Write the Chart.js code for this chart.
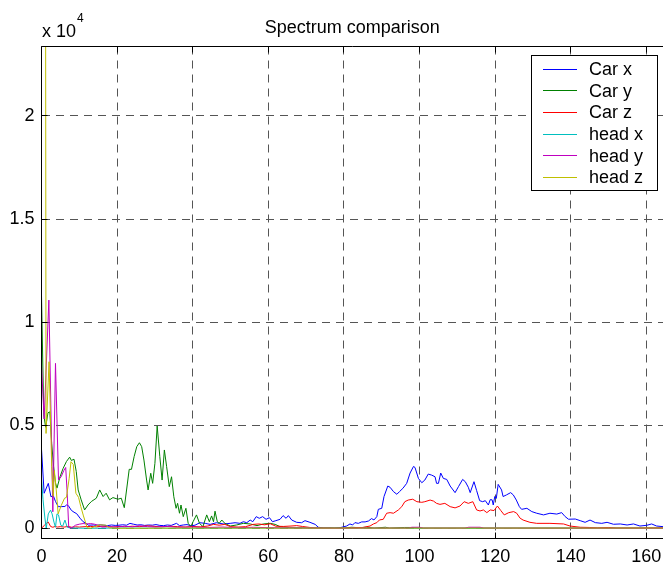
<!DOCTYPE html>
<html>
<head>
<meta charset="utf-8">
<script src="https://cdn.jsdelivr.net/npm/chart.js@4/dist/chart.umd.min.js"></script>
<style>
  html, body { margin: 0; padding: 0; background: #fff; overflow: hidden; }
  canvas { display: block; }
</style>
</head>
<body>
<canvas id="spec" width="663" height="565"></canvas>
<script>
// Frequency (x) and amplitude (y) samples for each measured channel
const carXFreq = [
  0, 0.7, 1.8, 2.5, 3.1, 3.7, 4.45, 5.2, 6.2, 6.6,
  7.1, 7.9, 8.6, 9.3, 10.2, 11.0, 11.9, 12.4, 13.7, 14.5,
  15.5, 16.5, 17.5, 18.5, 19.5, 20.5, 21.5, 22.5, 23.4, 24.3,
  25.3, 26.3, 27.3, 28.3, 29.3, 30.3, 31.3, 32.3, 33.3, 34.3,
  35.7, 36.5, 37.5, 38.5, 39.6, 40.6, 41.9, 43.3, 44.6, 46.3,
  48.1, 49.9, 51.2, 52.5, 53.4, 54.3, 55.2, 55.9, 56.8, 57.6,
  58.5, 59.4, 60.3, 61.1, 62.0, 63.1, 63.9, 64.7, 65.3, 66.2,
  67.5, 68.8, 69.7, 71.0, 72.4, 73.2, 74.6, 76.0, 77.5, 79.0,
  80.7, 81.6, 82.3, 82.9, 83.8, 84.7, 85.6, 86.5, 87.3, 87.95,
  88.7, 89.1, 90.0, 90.6, 91.6, 92.2, 93.1, 94.0, 94.7, 95.6,
  96.6, 97.5, 98.4, 98.8, 99.7, 100.6, 101.4, 102.3, 103.2, 104.1,
  104.5, 105.0, 105.6, 106.3, 107.2, 108.1, 109.4, 110.3, 111.4, 112.1,
  112.9, 113.4, 114.4, 115.1, 115.9, 116.7, 117.4, 118.2, 118.7, 119.2,
  119.5, 119.9, 120.3, 120.8, 121.7, 122.1, 123.0, 124.1, 124.8, 125.6,
  126.4, 127.0, 128.4, 129.7, 131.0, 132.8, 134.5, 136.3, 137.6, 138.5,
  139.4, 141.2, 142.5, 143.8, 145.1, 146.5, 148.2, 149.6, 151.3, 153.1,
  154.9, 156.6, 158.3, 160.1, 161.4, 162.7, 164.4
];
const carXAmp = [
  3840, 1700, 2180, 1530, 1590, 1300, 1050, 1050, 1060, 1130,
  1100, 870, 780, 710, 490, 320, 230, 150, 160, 140,
  170, 150, 130, 160, 140, 150, 170, 150, 240, 200,
  160, 170, 140, 160, 150, 180, 140, 130, 160, 140,
  240, 130, 160, 180, 120, 150, 270, 240, 190, 270,
  210, 240, 270, 240, 320, 270, 400, 320, 565, 485,
  565, 435, 515, 320, 370, 435, 615, 485, 615, 400,
  290, 270, 370, 290, 190, 50, 15, 20, 10, 30,
  110, 210, 160, 275, 240, 310, 310, 355, 470, 405,
  565, 920, 970, 1540, 2050, 1990, 1780, 1650, 1780, 1940,
  2180, 2680, 3000, 2950, 2420, 2210, 2340, 2630, 2580, 2500,
  2180, 2180, 2680, 2420, 2370, 2050, 1730, 2020, 2370, 2260,
  1990, 1730, 2260, 1830, 1340, 1290, 1340, 1130, 1390, 1380,
  1130, 1540, 1450, 2130, 1860, 1540, 1620, 1730, 1620, 1370,
  1050, 920, 970, 810, 730, 650, 730, 690, 760, 570,
  440, 450, 370, 290, 400, 275, 240, 290, 195, 210,
  160, 210, 110, 145, 210, 110, 80
];

const carYFreq = [
  0, 0.6, 1.1, 1.7, 2.2, 2.7, 3.2, 3.7, 4.1, 4.9,
  5.7, 6.6, 7.45, 7.9, 8.6, 9.2, 9.7, 10.5, 11.4, 12.3,
  13.2, 14.5, 15.4, 16.3, 17.1, 18.0, 18.9, 20.2, 21.1, 21.9,
  23.2, 23.8, 24.5, 25.2, 25.9, 26.5, 27.1, 27.8, 28.2, 28.9,
  29.4, 30.0, 30.6, 31.3, 31.9, 32.5, 33.1, 33.8, 34.4, 35.0,
  35.6, 36.0, 36.5, 36.9, 37.5, 38.2, 38.8, 39.5, 40.1, 41.0,
  41.8, 42.7, 43.7, 44.4, 45.0, 45.5, 45.9, 46.5, 47.0, 47.7,
  48.5, 49.9, 51.6, 53.4, 55.2, 57.0, 58.7, 60.5, 61.8, 63.1,
  65.7, 70, 80, 82, 84, 86, 88, 91, 92, 96,
  98, 100, 130, 164.4
];
const carYAmp = [
  11300, 5500, 4900, 5600, 5650, 4100, 3000, 2200, 1950, 2500,
  2900, 3240, 3450, 3290, 3350, 2750, 1860, 1380, 890, 1130,
  1300, 1460, 1860, 1540, 1700, 1380, 1490, 1410, 1460, 1000,
  2860, 2860, 3475, 3960, 4150, 3960, 3310, 2340, 1860, 2670,
  2180, 3150, 4960, 3475, 2340, 3800, 2990, 2020, 2500, 1530,
  970, 1210, 730, 1130, 565, 970, 240, 80, 320, 650,
  240, 80, 650, 320, 600, 320, 830, 320, 240, 400,
  240, 110, 160, 240, 210, 130, 210, 240, 190, 80,
  30, 20, 10, 50, 30, 50, 10, 50, 10, 40,
  40, 10, 10, 10
];

const carZFreq = [
  0, 0.8, 1.4, 1.8, 2.4, 3.0, 3.6, 4.2, 5.0, 6.0,
  7.0, 8.0, 9.0, 10.0, 11.5, 13, 14.5, 16, 17.5, 19,
  20.5, 22, 24, 26, 28, 30, 32, 34, 36, 38,
  40, 42, 44, 45.5, 47, 48.5, 50, 52, 54, 56,
  57.5, 59, 60.5, 62, 64, 66, 67.5, 69, 71, 73,
  78, 81, 83, 85, 86.9, 87.8, 88.7, 89.4, 90.4, 91.3,
  92.2, 93.1, 94.4, 95.3, 96.1, 97.0, 98.2, 99.3, 100.6, 101.4,
  102.8, 103.7, 104.5, 105.4, 106.7, 108.1, 109.4, 110.7, 111.8, 112.9,
  114.1, 115.1, 116.0, 116.9, 117.8, 118.7, 119.7, 120.6, 121.5, 122.4,
  123.6, 124.9, 125.7, 126.6, 127.4, 129.2, 131.0, 134.5, 138.1, 139.8,
  142.5, 145, 147, 150, 152, 158, 164.4
];
const carZAmp = [
  0, 150, 260, 300, 90, 50, 90, 60, 80, 60,
  90, 50, 70, 60, 80, 90, 70, 100, 80, 60,
  90, 70, 100, 80, 120, 90, 70, 100, 80, 60,
  90, 70, 110, 190, 150, 190, 80, 60, 80, 190,
  210, 170, 220, 100, 90, 110, 130, 90, 40, 10,
  0, 10, 30, 40, 110, 210, 275, 405, 435, 730,
  760, 730, 890, 1050, 1290, 1370, 1410, 1290, 1260, 1290,
  1370, 1320, 1210, 1160, 1210, 1050, 990, 1080, 1290, 1210,
  1290, 890, 840, 890, 760, 890, 860, 1080, 860, 650,
  760, 810, 730, 490, 400, 290, 240, 240, 210, 110,
  50, 40, 20, 40, 10, 10, 20
];

const headXFreq = [
  0, 0.4, 0.9, 1.25, 1.8, 2.4, 2.8, 3.3, 3.7, 4.1,
  4.5, 5.1, 5.6, 6.2, 6.8, 7.5, 9, 12, 20, 40,
  60, 80, 164.4
];
const headXAmp = [
  2430, 1400, 500, 0, 700, 880, 700, 300, 50, 700,
  650, 150, 100, 400, 50, 20, 10, 0, 10, 0,
  10, 0, 0
];

const headYFreq = [
  0, 0.7, 1.95, 3.0, 3.7, 4.5, 5.2, 5.9, 6.4, 6.8,
  7.2, 8, 9, 10, 11, 12, 13, 14, 15, 16,
  18, 20, 22, 24, 26, 28, 30, 33, 36, 40,
  44, 48, 52, 56, 60, 66, 72, 80, 86, 97,
  98, 100, 101, 112, 113, 116, 117, 164.4
];
const headYAmp = [
  7920, 5300, 11070, 800, 8000, 2350, 2500, 2800, 2950, 1700,
  50, 20, 150, 200, 230, 210, 230, 200, 150, 60,
  80, 60, 100, 70, 120, 80, 60, 90, 50, 60,
  40, 60, 30, 50, 30, 20, 10, 0, 10, 10,
  50, 50, 10, 10, 50, 50, 10, 0
];

const headZFreq = [
  0, 0.9, 1.2, 2.0, 2.7, 3.1, 3.4, 3.9, 4.4, 5.2,
  6.1, 6.6, 7.3, 7.8, 8.4, 9.1, 9.8, 10.4, 11.1, 12.1,
  13, 14.5, 15.5, 17, 18, 20, 40, 80, 120, 164.4
];
const headZAmp = [
  80000, 60000, 4600, 8080, 3000, 1550, 2800, 1860, 700, 1100,
  1460, 1500, 2400, 3230, 3100, 1700, 1500, 1050, 600, 20,
  0, 120, 170, 150, 20, 0, 10, 10, 10, 10
];

const seriesNames = ['Car x', 'Car y', 'Car z', 'head x', 'head y', 'head z'];
const seriesFreq = [carXFreq, carYFreq, carZFreq, headXFreq, headYFreq, headZFreq];
const seriesAmp = [carXAmp, carYAmp, carZAmp, headXAmp, headYAmp, headZAmp];
const seriesColors = ['#0000ff', '#008000', '#ff0000', '#00bfbf', '#bf00bf', '#bfbf00'];

const xTickValues = [0, 20, 40, 60, 80, 100, 120, 140, 160];
const xTickLabels = ['0', '20', '40', '60', '80', '100', '120', '140', '160'];
const yTickValues = [0, 5000, 10000, 15000, 20000];
const yTickLabels = ['0', '0.5', '1', '1.5', '2'];
const titleText = 'Spectrum comparison';
const exponentBase = 'x 10';
const exponentPower = '4';

const FONT = 'Liberation Sans, Arial, Helvetica, sans-serif';
Chart.defaults.font.family = FONT;
Chart.defaults.font.size = 18;
Chart.defaults.color = '#000';

const datasets = seriesNames.map((name, i) => ({
  label: name,
  data: seriesFreq[i].map((f, k) => ({ x: f, y: seriesAmp[i][k] })),
  borderColor: seriesColors[i],
  backgroundColor: seriesColors[i],
  borderWidth: 1,
  pointRadius: 0,
  tension: 0,
  fill: false,
  order: seriesNames.length - 1 - i
}));

const align = p => Math.round(p - 0.5) + 0.5;

// Axes box (left, top, bottom edges) with inward tick marks, legend and exponent label
const axesDecor = {
  id: 'axesDecor',
  afterDatasetsDraw(chart) {
    const { ctx, chartArea: a, scales: { x, y } } = chart;
    ctx.save();
    ctx.strokeStyle = '#000';
    ctx.lineWidth = 1;
    ctx.setLineDash([]);
    ctx.beginPath();
    ctx.moveTo(a.right + 1, a.top);
    ctx.lineTo(a.left, a.top);
    ctx.lineTo(a.left, a.bottom);
    ctx.lineTo(a.right + 1, a.bottom);
    ctx.stroke();
    const tick = 6;
    ctx.beginPath();
    x.ticks.forEach(t => {
      const px = align(x.getPixelForValue(t.value));
      ctx.moveTo(px, a.bottom); ctx.lineTo(px, a.bottom - tick);
      ctx.moveTo(px, a.top); ctx.lineTo(px, a.top + tick);
    });
    y.ticks.forEach(t => {
      const py = align(y.getPixelForValue(t.value));
      ctx.moveTo(a.left, py); ctx.lineTo(a.left + tick, py);
    });
    ctx.stroke();

    // legend
    const box = { l: 531.5, t: 55.5, r: 657.5, b: 190.5 };
    ctx.fillStyle = '#fff';
    ctx.fillRect(box.l, box.t, box.r - box.l, box.b - box.t);
    ctx.strokeStyle = '#000';
    ctx.strokeRect(box.l, box.t, box.r - box.l, box.b - box.t);
    ctx.font = '18px ' + FONT;
    ctx.textBaseline = 'middle';
    ctx.textAlign = 'left';
    chart.data.datasets.forEach((ds, i) => {
      const ry = 69.3 + i * 21.6;
      const ly = align(ry);
      ctx.strokeStyle = ds.borderColor;
      ctx.beginPath();
      ctx.moveTo(543, ly); ctx.lineTo(577, ly);
      ctx.stroke();
      ctx.fillStyle = '#000';
      ctx.fillText(ds.label, 589, ry + 1);
    });

    // exponent label above the y axis
    ctx.textBaseline = 'alphabetic';
    ctx.font = '18px ' + FONT;
    ctx.fillText(exponentBase, 42, 36.5);
    const w = ctx.measureText(exponentBase).width;
    ctx.font = '12px ' + FONT;
    ctx.fillText(exponentPower, 42 + w + 1, 21.5);
    ctx.restore();
  }
};

new Chart(document.getElementById('spec'), {
  type: 'line',
  data: { datasets },
  options: {
    responsive: false,
    animation: false,
    events: [],
    layout: { padding: 0 },
    plugins: {
      legend: { display: false },
      tooltip: { enabled: false },
      title: {
        display: true,
        text: titleText,
        fullSize: false,
        color: '#000',
        font: { size: 18, weight: 'normal', lineHeight: 1.2 },
        padding: { top: 17.5, bottom: 7.4 }
      }
    },
    scales: {
      x: {
        type: 'linear',
        min: 0,
        max: 164.4,
        afterBuildTicks: s => { s.ticks = xTickValues.map(v => ({ value: v })); },
        afterFit: s => { s.height = 26.5; s.paddingLeft = 0; s.paddingRight = 0; },
        ticks: {
          autoSkip: false,
          maxRotation: 0,
          padding: 8,
          color: '#000',
          callback: v => xTickLabels[xTickValues.indexOf(v)]
        },
        grid: { color: '#555', lineWidth: 1, drawTicks: false },
        border: { display: false, dash: [8, 6] }
      },
      y: {
        type: 'linear',
        min: -495,
        max: 23370,
        afterBuildTicks: s => { s.ticks = yTickValues.map(v => ({ value: v })); },
        afterFit: s => { s.width = 41.5; s.paddingTop = 0; s.paddingBottom = 0; },
        ticks: {
          autoSkip: false,
          padding: 7,
          color: '#000',
          callback: v => yTickLabels[yTickValues.indexOf(v)]
        },
        grid: { color: '#555', lineWidth: 1, drawTicks: false },
        border: { display: false, dash: [8, 6] }
      }
    }
  },
  plugins: [axesDecor]
});
</script>
</body>
</html>
